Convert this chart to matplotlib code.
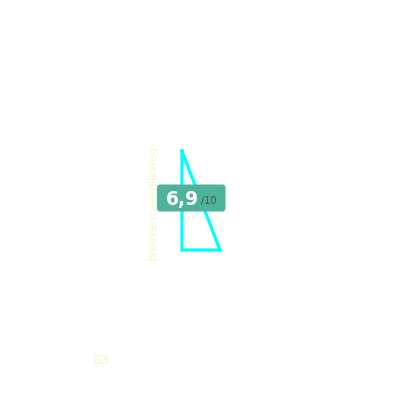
import matplotlib
matplotlib.use("Agg")
import matplotlib.pyplot as plt
from matplotlib.patches import FancyBboxPatch

# data
shape_x = [182, 182, 220, 182]
shape_y = [151, 250, 250, 151]
score_text = "6,9"
score_max = "/10"
side_label = "Broekermeerdijkweg"
corner_value = "83"

fig = plt.figure(figsize=(4, 4), dpi=100)
ax = fig.add_axes([0, 0, 1, 1])
ax.set_xlim(0, 400)
ax.set_ylim(400, 0)
ax.axis("off")

ax.plot(shape_x, shape_y, color="#00FFFF", lw=2.3, solid_joinstyle="miter", zorder=2)

box = FancyBboxPatch((157, 184.5), 68.5, 27, boxstyle="round,pad=0,rounding_size=3",
                     facecolor="#4FB29A", edgecolor="none", zorder=3)
ax.add_patch(box)
ax.text(199, 199.5, score_text, color="white", fontsize=13.5, fontweight="bold",
        ha="right", va="center", zorder=4)
ax.text(201, 201, score_max, color="#3a5a50", fontsize=7, ha="left", va="center", zorder=4)

ax.text(153, 202, side_label, color="#F2F7C8", fontsize=8, rotation=90,
        ha="center", va="center", zorder=1)
ax.text(101, 360, corner_value, color="#EEF6CC", fontsize=9, ha="center", va="center")

fig.savefig("out.png", dpi=100)
